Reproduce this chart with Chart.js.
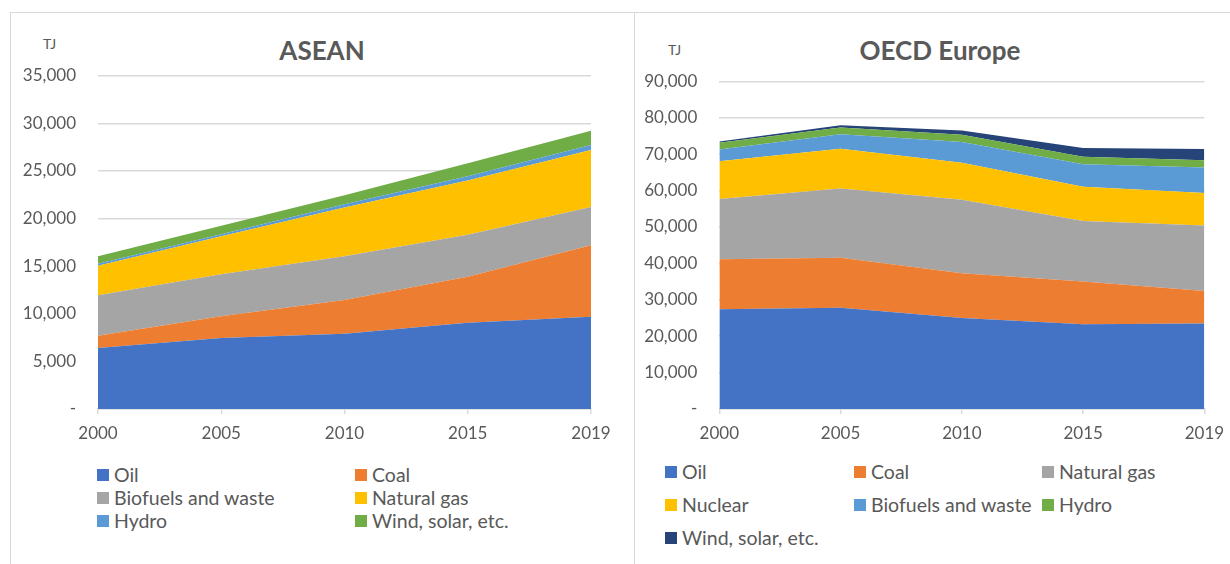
<!DOCTYPE html>
<html><head><meta charset="utf-8">
<script src="https://cdn.jsdelivr.net/npm/chart.js@4.4.0/dist/chart.umd.min.js"></script>
<style>
body{margin:0;width:1230px;height:564px;overflow:hidden;background:#fff;font-family:Lato,sans-serif;color:#595959;position:relative}
.panel{position:absolute;border:1px solid #d9d9d9;box-sizing:border-box}
.title{position:absolute;font-weight:bold;font-size:26px;line-height:26px;white-space:nowrap;transform:translateX(-50%)}
.unit{position:absolute;font-size:14px;line-height:14px}
canvas{position:absolute}
.leg{position:absolute;display:flex;align-items:center;font-size:19.5px;line-height:20px;white-space:nowrap;height:20px}
.leg i{display:inline-block;width:12px;height:12px;margin-right:5px}
</style></head><body>
<div class="panel" style="left:10px;top:12px;width:625px;height:600px"></div>
<div class="panel" style="left:634px;top:12px;width:620px;height:600px"></div>
<div class="title" style="left:322px;top:37px">ASEAN</div>
<div class="title" style="left:940px;top:37px">OECD Europe</div>
<div class="unit" style="left:43px;top:37px">TJ</div>
<div class="unit" style="left:668px;top:43px">TJ</div>
<canvas id="c1" width="620" height="420" style="left:10px;top:40px"></canvas>
<canvas id="c2" width="610" height="420" style="left:635px;top:40px"></canvas>
<div id="legends"></div>
<script>
const years = ['2000', '2005', '2010', '2015', '2019'];

// ASEAN (TJ)
const aseanLabels = ['Oil', 'Coal', 'Biofuels and waste', 'Natural gas', 'Hydro', 'Wind, solar, etc.'];
const aseanOil     = [6400, 7450, 7900, 9050, 9700];
const aseanCoal    = [1300, 2300, 3550, 4850, 7500];
const aseanBiofuel = [4250, 4400, 4600, 4400, 4000];
const aseanGas     = [3100, 4000, 5100, 5700, 6000];
const aseanHydro   = [200, 200, 350, 450, 520];
const aseanWind    = [800, 900, 950, 1350, 1500];
const aseanColors  = ['#4472C4', '#ED7D31', '#A5A5A5', '#FFC000', '#5B9BD5', '#70AD47'];

// OECD Europe (TJ)
const oecdLabels = ['Oil', 'Coal', 'Natural gas', 'Nuclear', 'Biofuels and waste', 'Hydro', 'Wind, solar, etc.'];
const oecdOil     = [27400, 27800, 25000, 23300, 23500];
const oecdCoal    = [13700, 13750, 12300, 11700, 8900];
const oecdGas     = [16550, 19000, 20200, 16650, 18000];
const oecdNuclear = [10400, 10950, 10100, 9400, 8950];
const oecdBiofuel = [3200, 3950, 5700, 6200, 6950];
const oecdHydro   = [1900, 1850, 2050, 2000, 2000];
const oecdWind    = [350, 650, 1150, 2450, 3100];
const oecdColors  = ['#4472C4', '#ED7D31', '#A5A5A5', '#FFC000', '#5B9BD5', '#70AD47', '#264478'];

const aseanMax = 35000, aseanStep = 5000;
const oecdMax = 90000, oecdStep = 10000;

function makeSets(labels, series, colors) {
  return series.map((d, i) => ({
    label: labels[i], data: d, backgroundColor: colors[i], borderColor: colors[i],
    borderWidth: 0, pointRadius: 0, fill: i === 0 ? 'origin' : '-1', tension: 0
  }));
}

function makeChart(id, sets, max, step, yWidth, pad) {
  return new Chart(document.getElementById(id), {
    type: 'line',
    data: { labels: years, datasets: sets },
    options: {
      responsive: false, animation: false, devicePixelRatio: 1,
      layout: { padding: pad },
      plugins: { legend: { display: false }, tooltip: { enabled: false }, title: { display: false } },
      scales: {
        x: {
          type: 'category', offset: false,
          grid: { display: true, drawOnChartArea: false, drawTicks: true, tickLength: 5, color: '#d9d9d9', lineWidth: 1.5 },
          border: { display: true, color: '#d9d9d9', width: 1.5 },
          ticks: { font: { family: 'Lato', size: 17 }, color: '#595959', padding: 9, maxRotation: 0, autoSkip: false },
          afterFit: s => { s.height = 40; }
        },
        y: {
          stacked: true, min: 0, max: max,
          grid: { color: '#d9d9d9', lineWidth: 1.5, drawTicks: false },
          border: { display: false },
          ticks: { stepSize: step, font: { family: 'Lato', size: 17 }, color: '#595959', padding: 22,
            callback: v => v === 0 ? '-' : v.toLocaleString('en-US') },
          afterFit: s => { s.width = yWidth; }
        }
      }
    }
  });
}

const c1 = makeChart('c1',
  makeSets(aseanLabels, [aseanOil, aseanCoal, aseanBiofuel, aseanGas, aseanHydro, aseanWind], aseanColors),
  aseanMax, aseanStep, 88, { top: 35.7, right: 39, bottom: 11, left: 0 });
const c2 = makeChart('c2',
  makeSets(oecdLabels, [oecdOil, oecdCoal, oecdGas, oecdNuclear, oecdBiofuel, oecdHydro, oecdWind], oecdColors),
  oecdMax, oecdStep, 84.3, { top: 41.3, right: 40.6, bottom: 11, left: 0 });

// HTML legends built from the chart datasets
function legend(chart, cols, rows) {
  const host = document.getElementById('legends');
  chart.data.datasets.forEach((ds, i) => {
    const el = document.createElement('div');
    el.className = 'leg';
    el.style.left = cols[i % cols.length] + 'px';
    el.style.top = (rows[Math.floor(i / cols.length)] - 10) + 'px';
    const sw = document.createElement('i');
    sw.style.background = ds.backgroundColor;
    el.appendChild(sw);
    el.appendChild(document.createTextNode(ds.label));
    host.appendChild(el);
  });
}
legend(c1, [97, 355], [474.5, 497.8, 520.8]);
legend(c2, [665, 854, 1042], [471.7, 505, 537.5]);
</script>
</body></html>
